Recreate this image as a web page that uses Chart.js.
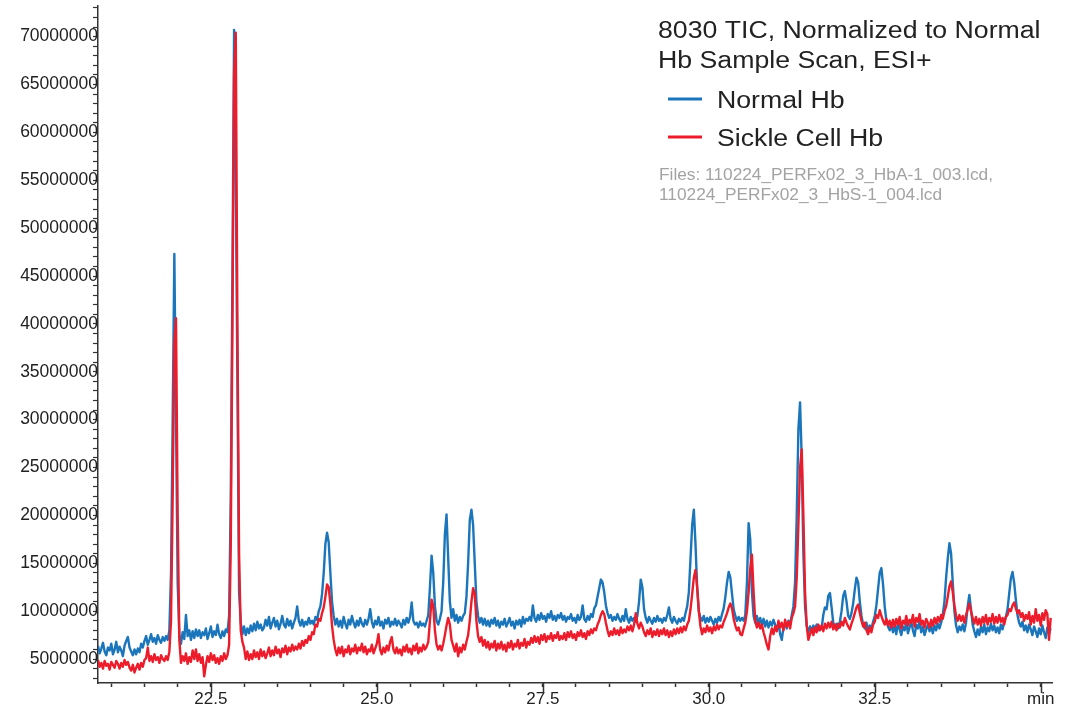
<!DOCTYPE html>
<html>
<head>
<meta charset="utf-8">
<script src="https://cdn.jsdelivr.net/npm/chart.js@4.4.1/dist/chart.umd.min.js"></script>
<style>
  html, body { margin: 0; padding: 0; background: #ffffff; }
  #idCanv_tic { display: block; }
</style>
</head>
<body>
<canvas id="idCanv_tic" width="1068" height="710"></canvas>
<script>
// scan grid of the TIC trace (minutes)
const scanStart = 20.8;
const scanStep = 0.025;

// TIC intensity in millions of counts, one value per scan, 20 scans per row (0.5 min)
const normalHb = [
  6.4, 5.6, 6.1, 6.7, 5.8, 5.4, 6.2, 5.9, 6.6, 5.5, 6.0, 6.8, 5.7, 6.3, 5.9, 5.3, 6.4, 6.9, 7.3, 6.2,
  5.8, 5.4, 6.0, 5.5, 6.1, 5.7, 6.6, 6.2, 6.9, 7.4, 6.5, 7.0, 7.6, 6.8, 7.2, 6.6, 7.5, 7.0, 6.7, 7.3,
  6.9, 7.4, 7.0, 8.0, 14.0, 30.0, 47.3, 30.0, 13.0, 7.5, 6.6, 7.8, 7.1, 9.6, 7.4, 8.0, 7.0, 7.9, 7.2, 8.1,
  7.4, 8.0, 7.2, 7.8, 7.5, 8.2, 7.1, 7.7, 8.4, 7.3, 7.9, 7.5, 8.6, 7.6, 7.2, 7.9, 7.4, 8.1, 7.8, 9.5,
  22.0, 45.0, 70.7, 55.0, 34.0, 12.0, 8.8, 7.6, 8.4, 7.5, 8.2, 7.7, 8.5, 7.9, 8.7, 8.0, 8.9, 8.2, 8.6, 8.0,
  8.3, 9.1, 8.5, 9.4, 8.2, 8.8, 9.3, 8.4, 9.0, 8.1, 8.7, 9.5, 8.6, 8.3, 9.2, 8.5, 9.0, 8.2, 8.8, 9.3,
  10.5, 9.0, 8.5, 9.1, 8.4, 8.9, 8.6, 9.3, 8.7, 9.0, 8.6, 9.4, 9.1, 10.0, 10.5, 11.8, 14.0, 17.0, 18.2, 17.2,
  14.0, 11.0, 9.5, 8.6, 9.2, 8.4, 9.0, 8.3, 9.4, 8.7, 8.2, 9.1, 8.6, 9.5, 8.8, 8.3, 9.0, 8.5, 9.3, 8.7,
  8.4, 9.1, 8.6, 9.2, 10.2, 8.9, 8.3, 9.0, 8.6, 9.4, 8.5, 8.9, 8.2, 9.1, 8.7, 9.3, 8.4, 8.9, 8.6, 9.2,
  8.5, 9.0, 8.7, 8.3, 9.1, 8.6, 9.3, 8.8, 9.4, 10.9, 9.0, 8.6, 8.8, 8.3, 8.9, 8.5, 8.7, 8.4, 9.0, 9.6,
  12.5, 15.8, 14.0, 10.5, 9.0, 8.6, 9.2, 10.0, 13.0, 18.0, 20.1, 15.5, 11.0, 9.3, 10.2, 9.0, 9.6, 8.8, 9.4, 9.0,
  9.5, 9.8, 11.5, 15.0, 19.5, 20.6, 19.0, 15.0, 11.0, 9.5, 8.8, 9.3, 8.6, 9.2, 8.5, 9.0, 8.4, 9.1, 8.7, 9.3,
  8.5, 9.0, 8.3, 8.9, 8.6, 9.2, 8.4, 8.8, 9.3, 8.5, 8.9, 8.2, 9.0, 8.6, 9.1, 8.4, 9.4, 8.7, 9.2, 9.0,
  9.4, 9.0, 10.6, 9.3, 8.9, 9.6, 9.1, 9.8, 9.2, 9.5, 8.9, 9.7, 9.3, 10.0, 9.1, 9.5, 9.0, 9.6, 9.3, 9.8,
  9.1, 9.5, 8.9, 9.4, 9.2, 9.7, 9.0, 9.3, 8.8, 9.6, 9.1, 9.4, 10.6, 9.2, 8.9, 9.5, 9.1, 9.7, 9.4, 10.3,
  10.6, 11.5, 12.4, 13.3, 13.0, 12.0, 10.6, 9.8, 9.3, 9.6, 9.0, 9.4, 9.1, 9.7, 9.2, 8.9, 9.5, 9.0, 10.2, 9.2,
  8.8, 9.4, 9.0, 9.3, 8.9, 9.5, 11.0, 13.3, 12.5, 10.2, 9.3, 8.8, 9.4, 9.0, 8.7, 9.3, 8.9, 9.5, 9.0, 9.2,
  8.8, 9.3, 9.0, 9.6, 10.4, 9.2, 8.8, 9.4, 9.0, 8.7, 9.2, 8.9, 9.3, 9.0, 9.8, 10.5, 12.0, 15.5, 19.0, 20.6,
  17.0, 12.5, 10.0, 9.3, 9.0, 9.5, 8.8, 9.3, 8.9, 9.4, 9.0, 8.6, 9.2, 8.8, 9.4, 9.0, 9.7, 10.3, 11.5, 13.0,
  14.1, 13.5, 11.8, 10.2, 9.5, 9.0, 9.4, 9.0, 9.3, 9.0, 9.6, 13.0, 19.2, 17.5, 12.0, 9.5, 8.8, 9.5, 8.7, 9.3,
  8.5, 9.2, 8.4, 9.0, 8.3, 8.9, 8.5, 9.1, 8.6, 8.0, 8.8, 7.6, 7.0, 8.3, 8.7, 8.2, 9.0, 8.6, 9.6, 10.5,
  13.0, 20.0, 29.0, 31.8, 26.0, 16.0, 10.5, 8.5, 7.8, 8.4, 7.9, 8.5, 8.1, 8.6, 8.0, 8.4, 8.2, 9.6, 10.4, 10.2,
  11.6, 11.9, 10.4, 8.8, 8.3, 8.7, 8.2, 8.9, 10.0, 11.6, 12.1, 11.0, 9.5, 9.2, 9.8, 10.8, 12.3, 13.5, 13.0, 11.0,
  9.5, 8.6, 8.2, 8.8, 8.0, 8.5, 8.2, 8.9, 9.5, 10.6, 12.3, 14.0, 14.5, 12.8, 10.5, 9.0, 8.4, 8.0, 8.6, 7.8,
  8.5, 7.6, 8.9, 8.1, 7.5, 8.4, 8.0, 8.8, 7.7, 8.3, 8.9, 8.0, 7.4, 8.6, 8.2, 8.9, 7.8, 8.4, 7.5, 8.1,
  8.6, 7.9, 8.4, 7.7, 8.5, 8.0, 8.7, 8.2, 8.8, 9.6, 11.0, 13.5, 15.5, 17.1, 16.0, 13.0, 10.0, 8.5, 7.8, 8.4,
  8.0, 8.6, 7.9, 8.8, 10.5, 11.7, 10.2, 8.6, 7.9, 7.3, 8.1, 7.5, 8.4, 7.8, 8.6, 7.6, 8.3, 7.9, 8.7, 8.0,
  8.5, 7.8, 8.3, 7.7, 8.6, 8.1, 8.9, 9.4, 10.2, 11.8, 13.4, 14.1, 13.0, 11.2, 9.6, 8.8, 8.4, 8.9, 8.0, 8.5,
  7.8, 8.6, 8.1, 7.5, 8.4, 7.9, 7.3, 8.2, 7.6, 8.5, 7.8, 7.2, 8.3, 7.7, 8.2,
];
const sickleHb = [
  4.9, 4.2, 4.6, 4.0, 4.8, 4.3, 4.5, 3.9, 4.7, 4.4, 4.1, 4.8, 4.5, 4.0, 4.6, 4.2, 4.9, 4.4, 4.7, 4.1,
  3.8, 4.4, 3.6, 4.1, 4.5, 3.9, 4.6, 4.2, 4.9, 5.1, 6.2, 4.8, 5.3, 4.7, 5.5, 4.9, 5.2, 4.6, 5.4, 5.0,
  4.8, 5.3, 4.9, 5.8, 9.0, 22.0, 38.0, 40.6, 20.0, 7.0, 4.6, 5.3, 4.8, 5.6, 4.5, 5.2, 4.7, 5.9, 5.0, 6.0,
  4.8, 5.5, 4.6, 5.2, 3.2, 4.4, 5.3, 4.7, 5.6, 4.9, 5.4, 4.6, 5.1, 4.5, 5.3, 4.8, 5.6, 5.0, 5.4, 6.5,
  17.0, 40.0, 66.0, 70.4, 40.0, 16.0, 8.0, 6.8, 6.2, 5.0, 5.8, 4.9, 5.5, 5.0, 5.9, 5.2, 5.7, 5.0, 6.0, 5.3,
  5.8, 5.1, 5.6, 6.2, 5.3, 5.9, 5.4, 6.3, 5.6, 6.0, 5.2, 6.1, 5.7, 6.4, 5.5, 6.2, 5.8, 6.5, 5.9, 6.3,
  6.0, 6.6, 6.1, 6.9, 6.4, 7.0, 6.7, 7.4, 7.0, 7.8, 7.6, 8.6, 8.4, 9.2, 9.0, 9.8, 10.4, 11.5, 12.8, 12.5,
  10.8, 8.5, 7.0, 6.0, 5.4, 6.2, 5.6, 6.3, 5.3, 6.0, 5.7, 6.4, 5.5, 6.1, 5.8, 6.5, 5.6, 6.2, 5.9, 6.6,
  5.7, 6.3, 5.5, 6.0, 5.8, 6.5, 5.6, 6.1, 6.6, 7.6, 6.0, 5.5, 6.2, 5.7, 6.4, 5.9, 6.8, 7.3, 6.0, 5.6,
  6.2, 5.6, 6.0, 5.4, 6.3, 5.8, 6.5, 5.7, 6.1, 5.5, 6.4, 5.9, 6.6, 5.6, 6.2, 5.8, 6.5, 6.0, 6.3, 6.8,
  9.0, 11.2, 10.5, 8.0, 6.5, 6.0, 6.4, 5.9, 6.6, 7.5, 8.5, 9.3, 8.6, 7.0, 6.4, 5.8, 6.6, 5.3, 6.2, 5.7,
  6.5, 6.0, 6.8, 7.5, 9.0, 11.0, 12.4, 11.8, 9.0, 7.4, 6.8, 7.3, 6.4, 7.0, 6.2, 6.8, 6.0, 6.6, 6.2, 6.9,
  5.9, 6.6, 6.1, 6.8, 6.0, 6.5, 5.8, 6.7, 6.2, 6.9, 6.0, 6.6, 6.3, 7.0, 6.1, 6.7, 6.4, 7.1, 6.2, 6.8,
  6.5, 7.2, 6.7, 7.4, 6.8, 7.3, 6.6, 7.5, 7.0, 7.6, 6.8, 7.4, 7.1, 7.7, 6.9, 7.5, 7.2, 7.8, 7.0, 7.4,
  7.1, 7.7, 7.0, 7.8, 7.3, 7.9, 7.2, 7.6, 7.0, 7.8, 7.4, 8.0, 7.3, 7.7, 7.1, 7.9, 7.5, 8.1, 7.7, 8.2,
  8.0, 8.6, 9.0, 9.6, 10.0, 9.7, 8.8, 8.0, 7.4, 7.9, 7.5, 8.2, 7.6, 8.0, 7.5, 8.3, 7.7, 8.1, 7.8, 8.4,
  8.0, 8.5, 7.9, 8.6, 9.8, 8.7, 8.2, 8.8, 8.4, 7.8, 7.4, 8.0, 7.6, 8.2, 7.3, 7.9, 7.5, 8.1, 7.4, 8.0,
  7.6, 8.2, 7.5, 8.0, 7.3, 7.9, 7.4, 8.1, 7.6, 8.2, 7.7, 8.3, 7.8, 8.4, 8.0, 8.6, 9.0, 10.2, 11.8, 13.5,
  14.3, 12.5, 10.0, 8.4, 7.6, 8.2, 7.8, 8.5, 7.9, 8.3, 7.7, 8.4, 8.0, 8.6, 8.1, 8.5, 8.3, 8.9, 9.3, 9.8,
  10.4, 10.8, 10.3, 9.2, 8.5, 8.0, 8.3, 7.6, 7.5, 8.2, 8.8, 10.0, 12.0, 14.5, 15.9, 12.0, 9.0, 8.3, 8.8, 8.2,
  8.6, 7.8, 7.2, 6.5, 6.0, 7.4, 8.2, 7.6, 8.4, 7.9, 9.0, 8.3, 8.8, 8.0, 9.1, 8.4, 8.9, 8.2, 9.3, 9.8,
  10.5, 13.5, 19.0, 25.0, 26.9, 20.0, 12.0, 8.5, 7.0, 7.6, 8.2, 7.5, 8.3, 7.8, 8.6, 8.0, 8.5, 7.9, 8.7, 8.2,
  8.8, 8.3, 8.9, 8.1, 8.6, 8.0, 8.7, 8.3, 8.9, 8.5, 9.3, 8.8, 8.4, 8.1, 8.7, 9.2, 9.8, 10.4, 10.7, 9.8,
  9.0, 8.4, 8.8, 8.0, 7.6, 8.3, 7.8, 8.6, 8.9, 9.6, 9.3, 10.1, 9.5, 9.0, 8.6, 9.2, 8.5, 9.0, 8.3, 9.1,
  8.4, 9.2, 8.6, 9.4, 8.2, 9.0, 8.7, 9.5, 8.5, 9.1, 8.8, 9.6, 8.4, 9.3, 8.9, 9.7, 8.6, 9.0, 8.3, 9.2,
  8.8, 8.3, 9.1, 8.5, 9.3, 8.7, 9.4, 8.9, 9.6, 9.2, 10.0, 10.5, 11.5, 12.6, 13.1, 12.0, 10.6, 9.5, 9.0, 9.6,
  9.0, 9.5, 8.8, 9.6, 10.2, 10.8, 10.0, 9.3, 8.7, 9.4, 8.6, 9.2, 8.5, 9.4, 8.8, 9.6, 8.6, 9.3, 8.9, 9.7,
  8.7, 9.4, 8.8, 9.6, 8.9, 9.3, 8.6, 9.4, 9.6, 10.2, 10.0, 10.6, 10.9, 10.3, 9.8, 10.1, 9.4, 9.8, 9.0, 9.6,
  9.2, 9.9, 8.6, 9.5, 8.8, 10.2, 9.0, 9.6, 8.5, 9.8, 9.1, 10.1, 9.7, 7.0, 9.3,
];

const seriesNames = ["Normal Hb", "Sickle Cell Hb"];
const seriesColors = ["#1b75bb", "#ec1c2a"];
const titleLines = ["8030 TIC, Normalized to Normal", "Hb Sample Scan, ESI+"];
const fileLines = ["Files: 110224_PERFx02_3_HbA-1_003.lcd,", "110224_PERFx02_3_HbS-1_004.lcd"];
const xRange = [20.8, 35.17];
const yRange = [2.5e6, 73.2e6];
const xTickValues = [];
for (let k = 42; k <= 70; k++) xTickValues.push(k / 2);
const yTickValues = [];
for (let k = 3; k <= 73; k++) yTickValues.push(k * 1e6);
const xLabelStep = 2.5;
const yLabelStep = 5e6;
const xUnitLabel = "min";
const xUnitAt = 35;

const axisColor = "#333333";
const textFont = "'Liberation Sans', Arial, sans-serif";

function toPoints(values) {
  return values.map((v, i) => ({ x: +(scanStart + i * scanStep).toFixed(3), y: v * 1e6 }));
}

function isStep(value, step) {
  const q = value / step;
  return Math.abs(q - Math.round(q)) < 1e-6;
}

function wideText(ctx, text, x, y, stretch) {
  ctx.save();
  ctx.translate(x, y);
  ctx.scale(stretch, 1);
  ctx.fillText(text, 0, 0);
  ctx.restore();
}

// longer marks under the labelled minutes
const majorTickPlugin = {
  id: "majorTicks",
  afterDraw(chart) {
    const xs = chart.scales.x;
    const ctx = chart.ctx;
    ctx.save();
    ctx.strokeStyle = axisColor;
    ctx.lineWidth = 1.5;
    xs.ticks.forEach((t) => {
      if (!isStep(t.value, xLabelStep)) return;
      const px = Math.round(xs.getPixelForValue(t.value)) + 0.5;
      ctx.beginPath();
      ctx.moveTo(px, xs.top);
      ctx.lineTo(px, xs.top + 10);
      ctx.stroke();
    });
    ctx.restore();
  },
};

// title, legend and file note in the upper right corner
const notePlugin = {
  id: "noteBox",
  afterDraw(chart) {
    const ctx = chart.ctx;
    const stretch = 1.16;
    ctx.save();
    ctx.textBaseline = "alphabetic";
    ctx.textAlign = "left";
    ctx.fillStyle = "#222222";
    ctx.font = `23px ${textFont}`;
    titleLines.forEach((line, i) => wideText(ctx, line, 658, 38 + i * 30, stretch));
    chart.data.datasets.forEach((ds, i) => {
      const y = 99 + i * 38;
      ctx.strokeStyle = ds.borderColor;
      ctx.lineWidth = 3;
      ctx.beginPath();
      ctx.moveTo(668, y);
      ctx.lineTo(702, y);
      ctx.stroke();
      ctx.fillStyle = "#222222";
      wideText(ctx, ds.label, 717, y + 9, stretch);
    });
    ctx.fillStyle = "#a3a3a3";
    ctx.font = `16px ${textFont}`;
    fileLines.forEach((line, i) => wideText(ctx, line, 659, 180 + i * 20, 1.08));
    ctx.restore();
  },
};

const ticChart = {
  config: {
    type: "line",
    data: {
      datasets: [
        {
          label: seriesNames[0],
          data: toPoints(normalHb),
          borderColor: seriesColors[0],
          order: 1,
        },
        {
          label: seriesNames[1],
          data: toPoints(sickleHb),
          borderColor: seriesColors[1],
          order: 0,
        },
      ],
    },
    options: {
      responsive: false,
      devicePixelRatio: 1,
      animation: false,
      layout: { padding: { left: 0, right: 16, top: 6, bottom: 0 } },
      elements: {
        point: { radius: 0 },
        line: { borderWidth: 2.4, tension: 0, fill: false, borderJoinStyle: "round" },
      },
      plugins: {
        legend: { display: false },
        title: { display: false },
        tooltip: { enabled: false },
      },
      scales: {
        x: {
          type: "linear",
          min: xRange[0],
          max: xRange[1],
          afterFit: (scale) => {
            scale.height = 27;
          },
          afterBuildTicks: (scale) => {
            scale.ticks = xTickValues.map((value) => ({ value }));
          },
          border: { display: true, color: axisColor, width: 1.5 },
          grid: { drawOnChartArea: false, drawTicks: true, tickLength: 4, tickColor: axisColor, tickWidth: 1.5 },
          ticks: {
            autoSkip: false,
            maxRotation: 0,
            padding: 2,
            color: "#222222",
            font: { family: textFont, size: 17 },
            callback: (value) => {
              if (Math.abs(value - xUnitAt) < 1e-6) return xUnitLabel;
              return isStep(value, xLabelStep) ? value.toFixed(1) : "";
            },
          },
        },
        y: {
          type: "linear",
          min: yRange[0],
          max: yRange[1],
          afterFit: (scale) => {
            scale.width = 98;
          },
          afterBuildTicks: (scale) => {
            scale.ticks = yTickValues.map((value) => ({ value }));
          },
          border: { display: true, color: axisColor, width: 1.5 },
          grid: { drawOnChartArea: false, drawTicks: true, tickLength: 5, tickColor: axisColor, tickWidth: 1.2 },
          ticks: {
            autoSkip: false,
            padding: -5,
            color: "#222222",
            font: { family: textFont, size: 17.5 },
            callback: (value) => (isStep(value, yLabelStep) ? String(value) : ""),
          },
        },
      },
    },
    plugins: [majorTickPlugin, notePlugin],
  },
  canvas: null,
};

ticChart.canvas = new Chart(document.getElementById("idCanv_tic"), ticChart.config);
</script>
</body>
</html>
